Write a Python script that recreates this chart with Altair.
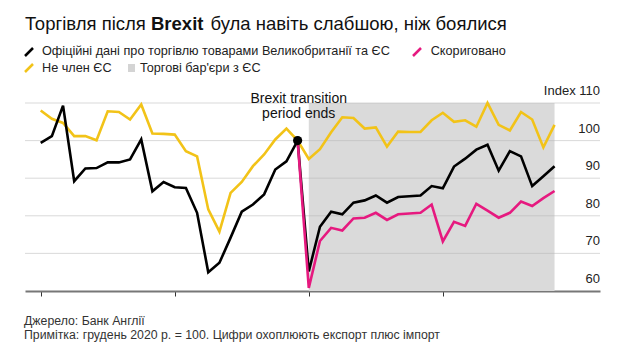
import altair as alt
import pandas as pd

# ---------------- data (monthly, Jan 2019 = 0 ... Nov 2022 = 46) ----------------
month_index = list(range(47))
official = [99.4, 101.2, 109.3, 89.2, 92.6, 92.7, 94.2, 94.2, 95.0, 100.3, 86.5, 89.0,
            87.6, 87.4, 80.8, 65.0, 67.5, 74.2, 81.1, 83.0, 85.7, 92.3, 94.5, 100.0,
            65.2, 77.1, 81.1, 80.4, 83.5, 84.1, 85.4, 83.5, 85.0, 85.2, 85.4, 87.9,
            87.3, 93.1, 95.2, 97.6, 98.9, 92.0, 97.2, 95.8, 87.9, 90.5, 93.2]
non_eu = [108.0, 105.8, 104.7, 101.2, 101.2, 100.1, 107.8, 107.6, 105.6, 109.6, 101.9, 101.8,
          101.6, 97.2, 95.8, 81.7, 75.8, 86.1, 89.0, 93.2, 96.3, 100.3, 103.2, 100.0,
          95.1, 97.7, 102.2, 106.2, 106.0, 103.2, 103.5, 98.4, 102.4, 102.3, 102.3, 105.4,
          107.4, 105.0, 105.4, 103.7, 110.0, 104.2, 102.7, 107.6, 105.6, 98.2, 104.2]
adj_months = list(range(23, 47))
adjusted = [100.0, 60.8, 73.3, 76.8, 76.1, 79.3, 79.5, 80.8, 78.9, 80.4, 80.6, 80.8,
            83.0, 73.2, 78.4, 77.3, 83.2, 81.4, 79.5, 80.8, 83.8, 82.6, 84.7, 86.6]
year_ticks = [0, 12, 24, 36]
y_ticks = [60, 70, 80, 90, 100, 110]
y_labels = ["60", "70", "80", "90", "100", "Index 110"]
barrier_start, barrier_end = 24, 46
brexit_month, brexit_value = 23, 100

W, H = 575, 188
FONT = "Liberation Sans"
C_BLACK = "#000000"
C_YELLOW = "#f2c318"
C_PINK = "#e6197f"

df_off = pd.DataFrame({"m": month_index, "v": official})
df_non = pd.DataFrame({"m": month_index, "v": non_eu})
df_adj = pd.DataFrame({"m": adj_months, "v": adjusted})
df_rect = pd.DataFrame({"m1": [barrier_start], "m2": [barrier_end], "y1": [60], "y2": [110]})
df_grid = pd.DataFrame({"v": y_ticks[1:]})
df_lab = pd.DataFrame({"v": y_ticks, "t": y_labels})
df_dot = pd.DataFrame({"m": [brexit_month], "v": [brexit_value]})

xscale = alt.Scale(domain=[-1.405, 50.07], nice=False, zero=False)
yscale = alt.Scale(domain=[60, 110], nice=False, zero=False)
xaxis = alt.Axis(values=year_ticks, labels=False, grid=False, title=None,
                 domainColor="#777777", domainWidth=2, tickColor="#333333",
                 tickSize=5, tickWidth=1)

X = lambda f: alt.X(f, type="quantitative", scale=xscale, axis=xaxis)
Y = lambda f: alt.Y(f, type="quantitative", scale=yscale, axis=None)

rect = alt.Chart(df_rect).mark_rect(color="#dadada").encode(
    x=X("m1"), x2="m2", y=Y("y1"), y2="y2")

grid = alt.Chart(df_grid).mark_rule(color="#b5b5b5", opacity=0.5, strokeWidth=1).encode(
    y=Y("v"), x=alt.value(0), x2=alt.value(W))

line_style = dict(strokeWidth=2.6, strokeJoin="miter", strokeCap="butt")
l_non = alt.Chart(df_non).mark_line(color=C_YELLOW, **line_style).encode(x=X("m"), y=Y("v"))
l_off = alt.Chart(df_off).mark_line(color=C_BLACK, **line_style).encode(x=X("m"), y=Y("v"))
l_adj = alt.Chart(df_adj).mark_line(color=C_PINK, **line_style).encode(x=X("m"), y=Y("v"))
dot = alt.Chart(df_dot).mark_point(filled=True, color="#000000", size=85, opacity=1).encode(
    x=X("m"), y=Y("v"))

ylab = alt.Chart(df_lab).mark_text(align="right", baseline="alphabetic", dy=-8,
                                   font=FONT, fontSize=13, color="#222222").encode(
    y=Y("v"), x=alt.value(W), text="t:N")


def txt(s, x, y, size=13, weight="normal", align="left", color="#222222"):
    return alt.Chart(pd.DataFrame({"t": [s]})).mark_text(
        align=align, baseline="alphabetic", font=FONT, fontSize=size,
        fontWeight=weight, color=color).encode(
        x=alt.value(x), y=alt.value(y), text="t:N")


def stroke(x1, y1, x2, y2, color):
    return alt.Chart(pd.DataFrame({"a": [0]})).mark_rule(
        color=color, strokeWidth=2.5).encode(
        x=alt.value(x1), y=alt.value(y1), x2=alt.value(x2), y2=alt.value(y2))


annot = [
    txt("Brexit transition", 273.7, -0.5, size=14, align="center", color="#111111"),
    txt("period ends", 273.7, 14.5, size=14, align="center", color="#111111"),
]

title = [
    txt("Торгівля після", 0, -73, size=18.5, color="#111111"),
    txt("Brexit", 126, -73, size=18.5, weight="bold", color="#111111"),
    txt("була навіть слабшою, ніж боялися", 185.5, -73, size=18.5, color="#111111"),
]

legend = [
    stroke(0, -47, 8, -55, C_BLACK),
    txt("Офіційні дані про торгівлю товарами Великобританії та ЄС", 17, -48, size=12.7),
    stroke(388, -47, 396, -55, C_PINK),
    txt("Скориговано", 405.7, -48, size=12.7),
    stroke(0, -31, 8, -39, C_YELLOW),
    txt("Не член ЄС", 17, -31.5, size=12.7),
    alt.Chart(pd.DataFrame({"a": [0]})).mark_rect(color="#d4d4d4").encode(
        x=alt.value(103), x2=alt.value(110), y=alt.value(-39), y2=alt.value(-31)),
    txt("Торгові бар'єри з ЄС", 115, -31.5, size=12.7),
]

footer = [
    txt("Джерело: Банк Англії", -1, 222, size=12.3, color="#333333"),
    txt("Примітка: грудень 2020 р. = 100. Цифри охоплюють експорт плюс імпорт", -1, 235.5,
        size=12.3, color="#333333"),
]

chart = alt.layer(
    rect, grid, l_non, l_off, l_adj, dot, ylab, *annot, *title, *legend, *footer
).properties(
    width=W, height=H,
    autosize=alt.AutoSizeParams(type="none"),
    padding={"left": 17, "top": 95, "right": 20, "bottom": 55},
    background="white",
).configure_view(stroke=None)

chart.save("out.html", embed_options={"renderer": "svg", "actions": False})
